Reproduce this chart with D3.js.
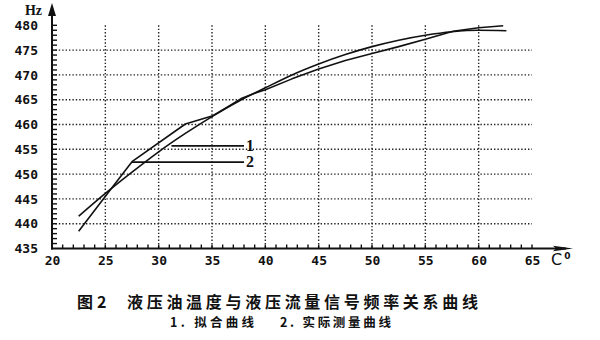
<!DOCTYPE html>
<html>
<head>
<meta charset="utf-8">
<script src="https://cdn.jsdelivr.net/npm/d3@7"></script>
<style>
  html, body { margin: 0; padding: 0; background: #fff; }
  svg { display: block; }
</style>
</head>
<body>
<svg id="chart" width="600" height="340"></svg>
<script>
// Oil temperature (°C) vs. flow signal frequency (Hz)
const xTicks = [20, 25, 30, 35, 40, 45, 50, 55, 60, 65];
const yTicks = [435, 440, 445, 450, 455, 460, 465, 470, 475, 480];
const xGrid = [25, 30, 35, 40, 45, 50, 55, 60];
const yGrid = [440, 445, 450, 455, 460, 465, 470, 475];
const xMinorTicks = d3.range(21, 66, 1);
const yMinorTicks = d3.range(436, 481, 1);

// Curve 1: fitted curve
const fitTemp = [22.5, 25, 27.5, 30, 32.5, 35, 37.5, 40, 42.5, 45, 47.5, 50, 52.5, 55, 57.5, 60, 62.6];
const fitFreq = [441.5, 446.1, 450.4, 454.5, 458.2, 461.6, 464.7, 467.4, 470.0, 472.2, 474.1, 475.7, 477.0, 478.0, 478.7, 479.0, 478.9];

// Curve 2: measured curve
const measTemp = [22.5, 25.6, 27.5, 32.5, 35, 36.5, 37.8, 39, 40, 42.5, 45, 47.5, 50, 52.5, 55, 57.6, 60, 62.3];
const measFreq = [438.5, 447.2, 452.5, 460.1, 461.7, 463.6, 465.3, 466.3, 467.0, 469.2, 471.2, 472.9, 474.3, 475.7, 477.2, 478.8, 479.5, 479.9];

const svg = d3.select("#chart");
const x = d3.scaleLinear().domain([20, 65]).range([52, 532]);
const y = d3.scaleLinear().domain([435, 480]).range([248.5, 25.3]);

const ink = "#111";
const monoFont = "'DejaVu Sans Mono', monospace";

// dotted grid: vertical lines from 435 to 480 Hz, horizontal lines across 20–65 °C
for (const t of xGrid) {
  svg.append("line")
    .attr("x1", x(t)).attr("x2", x(t)).attr("y1", y(480)).attr("y2", y(435))
    .attr("stroke", "#222").attr("stroke-width", 1.4).attr("stroke-dasharray", "1.4,2");
}
for (const f of yGrid) {
  svg.append("line")
    .attr("x1", x(20)).attr("x2", x(65)).attr("y1", y(f)).attr("y2", y(f))
    .attr("stroke", "#222").attr("stroke-width", 1.4).attr("stroke-dasharray", "1.4,2");
}

// minor ticks every 1 unit
for (const f of yMinorTicks) {
  svg.append("line")
    .attr("x1", x(20)).attr("x2", x(20) + 5).attr("y1", y(f)).attr("y2", y(f))
    .attr("stroke", ink).attr("stroke-width", 1.4);
}
for (const t of xMinorTicks) {
  svg.append("line")
    .attr("x1", x(t)).attr("x2", x(t)).attr("y1", y(435)).attr("y2", y(435) - 4)
    .attr("stroke", ink).attr("stroke-width", 1.4);
}

// tick labels
const yAxis = d3.axisLeft(y).tickValues(yTicks).tickFormat(d3.format("d")).tickSize(0).tickPadding(14);
const gY = svg.append("g").attr("transform", `translate(${x(20)},0)`).call(yAxis);
gY.select(".domain").remove();
gY.selectAll("text").attr("font-family", monoFont).attr("font-weight", "bold")
  .attr("font-size", 13).attr("fill", ink);

const xAxis = d3.axisBottom(x).tickValues(xTicks).tickFormat(d3.format("d")).tickSize(0).tickPadding(7);
const gX = svg.append("g").attr("transform", `translate(0,${y(435)})`).call(xAxis);
gX.select(".domain").remove();
gX.selectAll("text").attr("font-family", monoFont).attr("font-weight", "bold")
  .attr("font-size", 13).attr("fill", ink);

// axis lines with arrowheads
svg.append("line").attr("x1", x(20)).attr("x2", x(20)).attr("y1", y(435) + 1).attr("y2", 12)
  .attr("stroke", ink).attr("stroke-width", 2);
svg.append("path").attr("d", `M${x(20)},3 L${x(20) - 4},16 L${x(20) + 4},16 Z`).attr("fill", ink);
svg.append("line").attr("x1", x(20) - 1).attr("x2", 566).attr("y1", y(435)).attr("y2", y(435))
  .attr("stroke", ink).attr("stroke-width", 2);
svg.append("path").attr("d", `M573,${y(435)} L553,${y(435) - 2.8} L556,${y(435)} L553,${y(435) + 2.8} Z`).attr("fill", ink);

// axis titles
svg.append("text").attr("x", 42).attr("y", 15).attr("text-anchor", "end")
  .attr("font-family", "'Liberation Serif', serif").attr("font-weight", "bold")
  .attr("font-size", 14).attr("fill", ink).text("Hz");
const cLab = svg.append("text").attr("x", 551).attr("y", 265)
  .attr("font-family", "'DejaVu Sans', sans-serif").attr("font-size", 16).attr("fill", ink);
cLab.append("tspan").text("C");
cLab.append("tspan").attr("dx", 2).attr("dy", -6).attr("font-size", 9).attr("font-weight", "bold").text("0");

// curves
const fitData = fitTemp.map((t, i) => [t, fitFreq[i]]);
const measData = measTemp.map((t, i) => [t, measFreq[i]]);
svg.append("path").datum(fitData)
  .attr("d", d3.line().x(d => x(d[0])).y(d => y(d[1])).curve(d3.curveMonotoneX))
  .attr("fill", "none").attr("stroke", ink).attr("stroke-width", 1.6);
svg.append("path").datum(measData)
  .attr("d", d3.line().x(d => x(d[0])).y(d => y(d[1])))
  .attr("fill", "none").attr("stroke", ink).attr("stroke-width", 1.6)
  .attr("stroke-linejoin", "round");

// leader lines with curve numbers
const leaders = [
  { label: "1", from: 31.2, freq: 455.7 },
  { label: "2", from: 27.5, freq: 452.4 }
];
leaders.forEach(l => {
  svg.append("line").attr("x1", x(l.from)).attr("x2", 244)
    .attr("y1", y(l.freq)).attr("y2", y(l.freq))
    .attr("stroke", ink).attr("stroke-width", 1.8);
  svg.append("text").attr("x", 246).attr("y", y(l.freq) + 5)
    .attr("font-family", "'Liberation Serif', serif").attr("font-weight", "bold")
    .attr("font-size", 16).attr("fill", ink).text(l.label);
});

// caption
const cjk = "'Noto Sans CJK SC', sans-serif";
svg.append("text").attr("x", 77).attr("y", 308).attr("font-family", cjk).attr("font-weight", "bold")
  .attr("font-size", 16).attr("fill", ink).text("图");
svg.append("text").attr("x", 97).attr("y", 308).attr("font-family", cjk).attr("font-weight", "bold")
  .attr("font-size", 16).attr("fill", ink).text("2");
svg.append("text").attr("x", 127).attr("y", 308).attr("font-family", cjk).attr("font-weight", "bold")
  .attr("font-size", 16).attr("fill", ink)
  .attr("textLength", 351).attr("lengthAdjust", "spacing")
  .text("液压油温度与液压流量信号频率关系曲线");
svg.append("text").attr("x", 170).attr("y", 327).attr("font-family", cjk).attr("font-weight", "bold")
  .attr("font-size", 12.5).attr("fill", ink)
  .attr("textLength", 84).attr("lengthAdjust", "spacing")
  .text("1. 拟合曲线");
svg.append("text").attr("x", 280).attr("y", 327).attr("font-family", cjk).attr("font-weight", "bold")
  .attr("font-size", 12.5).attr("fill", ink)
  .attr("textLength", 111).attr("lengthAdjust", "spacing")
  .text("2. 实际测量曲线");
</script>
</body>
</html>
